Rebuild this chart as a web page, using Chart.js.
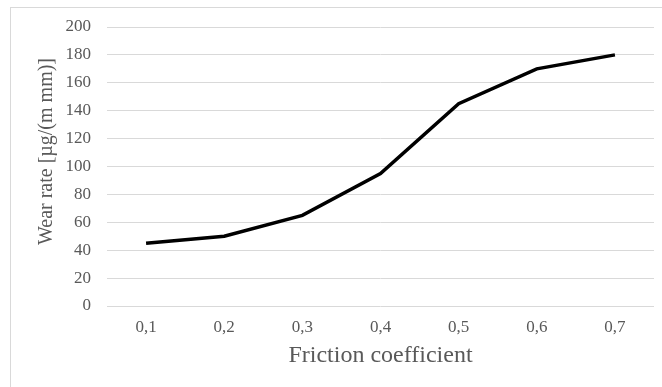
<!DOCTYPE html>
<html>
<head>
<meta charset="utf-8">
<script src="https://cdn.jsdelivr.net/npm/chart.js@4/dist/chart.umd.min.js"></script>
<style>
  html, body { margin: 0; padding: 0; background: #fff; }
  #wrap { width: 662px; height: 387px; position: relative; }
</style>
</head>
<body>
<div id="wrap"><canvas id="wearChart"></canvas></div>
<script>
// data
var frictionLabels = ['0,1', '0,2', '0,3', '0,4', '0,5', '0,6', '0,7'];
var wearRate = [45, 50, 65, 95, 145, 170, 180];
var yMin = 0, yMax = 200, yStep = 20;

var textGray = '#595959';
var gridGray = '#d9d9d9';
var serif = "'Liberation Serif', 'Times New Roman', serif";

// light frame round the whole chart
var frame = {
  id: 'frame',
  beforeDraw: function (chart) {
    var c = chart.ctx;
    c.save();
    c.strokeStyle = gridGray;
    c.lineWidth = 1;
    c.strokeRect(10.5, 7.5, 700, 420);
    c.restore();
  }
};

var ctx = document.getElementById('wearChart').getContext('2d');
var myChart = new Chart(ctx, {
  type: 'line',
  data: {
    labels: frictionLabels,
    datasets: [{
      label: 'Wear rate',
      data: wearRate,
      borderColor: '#000000',
      borderWidth: 3.5,
      pointRadius: 0,
      tension: 0,
      fill: false
    }]
  },
  options: {
    responsive: true,
    maintainAspectRatio: false,
    animation: false,
    layout: { padding: { left: 0, top: 27, right: 8, bottom: 0 } },
    plugins: {
      legend: { display: false },
      tooltip: { enabled: false }
    },
    scales: {
      x: {
        offset: true,
        grid: { display: false, drawTicks: false, offset: true },
        border: { display: false },
        ticks: {
          color: textGray,
          font: { family: serif, size: 17 },
          padding: 11,
          maxRotation: 0
        },
        title: {
          display: true,
          text: 'Friction coefficient',
          color: textGray,
          font: { family: serif, size: 24 },
          padding: { top: 4, bottom: 17 }
        },
        afterFit: function (scale) { scale.height = 81; }
      },
      y: {
        min: yMin,
        max: yMax,
        grid: { color: gridGray, lineWidth: 1, drawTicks: false },
        border: { display: false },
        ticks: {
          stepSize: yStep,
          color: textGray,
          font: { family: serif, size: 17 },
          padding: 16
        },
        title: {
          display: true,
          text: '\u2002\u2002\u2002Wear rate [µg/(m mm)]',
          color: textGray,
          font: { family: serif, size: 20 },
          padding: { top: 35, bottom: 0 }
        },
        afterFit: function (scale) { scale.width = 107; }
      }
    }
  },
  plugins: [frame]
});
</script>
</body>
</html>
